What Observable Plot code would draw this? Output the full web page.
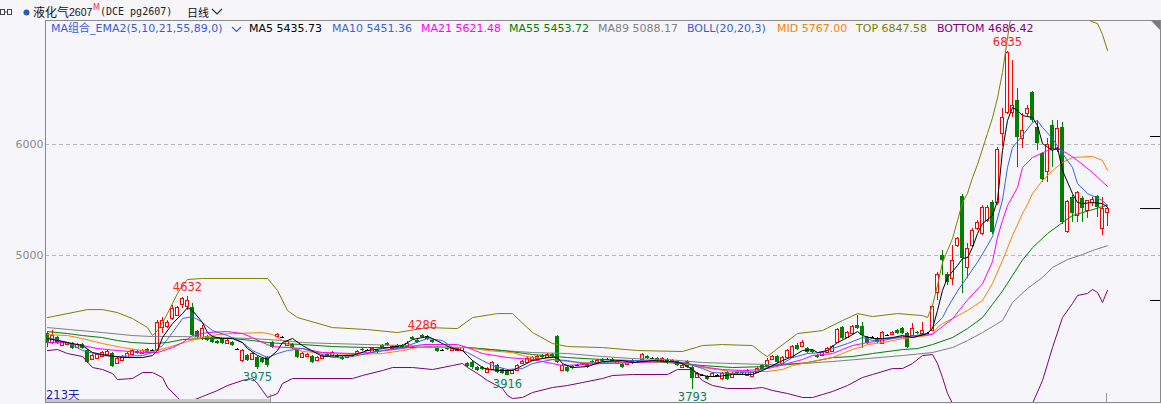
<!DOCTYPE html>
<html>
<head>
<meta charset="utf-8">
<script src="https://cdn.jsdelivr.net/npm/d3@7"></script>
<script src="https://cdn.jsdelivr.net/npm/@observablehq/plot@0.6"></script>
<style>
  html, body { margin: 0; padding: 0; background: #f5f5fa; }
  #wrap { position: relative; width: 1161px; height: 404px; overflow: hidden; background: #f5f5fa;
          font-family: "DejaVu Sans", "Noto Sans CJK SC", sans-serif; }
  #chart { position: absolute; left: 0; top: 20px; }
  .t { position: absolute; white-space: nowrap; line-height: 14px; }
</style>
</head>
<body>
<div id="wrap">
  <div id="chart"></div>
  <svg id="deco" width="1161" height="404" style="position:absolute;left:0;top:0;pointer-events:none">
    <rect x="0.5" y="9.5" width="4" height="5" fill="none" stroke="#444"/>
    <rect x="7.5" y="9.5" width="4" height="5" fill="none" stroke="#444"/>
    <line x1="4.5" y1="12" x2="7.5" y2="12" stroke="#444"/>
    <circle cx="26.5" cy="12.5" r="3" fill="#2a5db0"/>
    <polyline points="212,9 217,14 222,9" fill="none" stroke="#333" stroke-width="1.2"/>
    <polyline points="232,27 236.5,31.5 241,27" fill="none" stroke="#3c5adc" stroke-width="1.2"/>
    <polygon points="1151,20.5 1160,20.5 1160,30" fill="#7a7a7a"/>
    <rect x="46" y="399" width="224" height="3" fill="#c9c9cc"/>
    <line x1="270.5" y1="394" x2="270.5" y2="402" stroke="#9a9a9a"/>
    <line x1="1106.5" y1="393" x2="1106.5" y2="402" stroke="#9a9a9a"/>
  </svg>
  <div id="hdr"></div>
  <div id="legend"></div>
</div>
<script>
// ---------------- DATA ----------------
const opens = [
4297,4216,4261,4189,4198,4207,4171,4198,4144,4063,
4072,4090,4108,4117,4027,4054,4081,4108,4135,4117,
4153,4144,4144,4351,4360,4432,4459,4550,4540,4531,
4315,4261,4270,4261,4225,4243,4207,4216,4153,4054,
4099,4063,4081,4072,4081,4216,4270,4261,4189,4198,
4144,4081,4090,4090,4054,4072,4108,4099,4099,4081,
4081,4108,4117,4153,4144,4126,4144,4189,4207,4162,
4189,4189,4180,4261,4234,4279,4270,4234,4171,4144,
4171,4144,4144,4144,4027,4036,3991,3991,3946,3973,
4009,3973,3964,3937,3964,4027,4036,4054,4072,4099,
4081,4108,4270,3964,3991,4000,4009,4027,4018,4045,
4036,4063,4063,4063,4027,4018,4018,4054,4036,4063,
4090,4072,4072,4054,4063,4036,4045,3991,4045,3991,
3901,3919,3910,3910,3919,3892,3946,3901,3955,3946,
3919,3910,3946,4009,4009,4063,4090,4027,4081,4081,
4189,4180,4162,4144,4099,4099,4126,4135,4216,4351,
4261,4297,4369,4360,4261,4261,4252,4207,4279,4288,
4324,4342,4297,4279,4306,4297,4297,4324,4658,5000,
4829,4784,5090,5531,4892,5090,5243,5198,5315,5477,
5477,6099,6288,6288,6396,6054,6279,6468,6153,5919,
5748,6171,5946,6153,5216,5522,5360,5513,5405,5477,
5531,5243,5387];
const highs = [
4306,4324,4270,4225,4216,4216,4207,4207,4153,4108,
4117,4135,4153,4126,4081,4099,4126,4153,4144,4153,
4162,4153,4414,4441,4414,4550,4545,4622,4632,4568,
4324,4369,4279,4270,4234,4252,4243,4225,4162,4153,
4108,4126,4090,4081,4090,4225,4297,4270,4234,4207,
4153,4126,4117,4099,4090,4108,4117,4135,4108,4090,
4108,4117,4144,4162,4153,4171,4153,4198,4216,4189,
4198,4198,4225,4270,4243,4286,4279,4243,4180,4153,
4180,4171,4171,4180,4036,4054,4000,4000,3991,4045,
4018,3982,3973,3973,4018,4054,4081,4090,4099,4108,
4117,4117,4279,4018,4000,4009,4018,4036,4027,4054,
4063,4072,4072,4072,4054,4027,4045,4063,4045,4117,
4099,4081,4081,4081,4072,4063,4054,4018,4054,4000,
3946,3928,3919,3946,3928,3946,3955,3946,3964,3955,
3973,3955,3991,4018,4072,4099,4099,4090,4153,4189,
4207,4234,4171,4153,4108,4135,4171,4189,4342,4360,
4315,4369,4459,4396,4270,4270,4261,4315,4288,4315,
4333,4351,4306,4387,4315,4396,4306,4550,4847,5045,
4847,5090,5160,5550,5108,5243,5315,5450,5450,5495,
5973,6324,6835,6757,6504,6279,6351,6477,6216,5928,
6054,6216,6216,6200,5500,5540,5580,5530,5500,5520,
5545,5522,5432];
const lows = [
4171,4198,4198,4180,4189,4153,4162,4153,4027,4054,
4063,4081,4099,3991,4018,4045,4072,4099,4108,4108,
4117,4135,4135,4297,4342,4414,4450,4522,4505,4270,
4252,4234,4225,4207,4198,4198,4198,4180,4144,4036,
4045,4054,3975,4027,3990,4162,4261,4252,4180,4153,
4072,4072,4081,4027,4045,4063,4081,4090,4072,4054,
4072,4081,4108,4135,4135,4117,4117,4162,4180,4153,
4162,4162,4171,4234,4207,4252,4234,4207,4126,4135,
4144,4135,4135,4135,3991,3973,3955,3964,3937,3964,
3937,3928,3916,3928,3955,4018,4027,4045,4063,4072,
4072,4081,4027,3955,3946,3973,4000,4009,3982,4027,
4027,4036,4054,4036,4018,3982,4009,4018,4027,4054,
4063,4063,4045,4045,4018,4027,4000,3982,3982,3793,
3892,3910,3874,3901,3910,3874,3874,3892,3928,3928,
3910,3901,3937,3964,4000,4054,4027,4018,4072,4072,
4144,4171,4117,4117,4072,4090,4117,4126,4207,4243,
4252,4288,4333,4162,4198,4252,4207,4198,4270,4279,
4288,4288,4162,4270,4288,4288,4288,4315,4595,4820,
4730,4730,5072,4658,4793,5072,5225,5180,5297,5189,
5450,5982,6270,6243,5793,5964,6243,6198,5946,5658,
5658,5793,5928,5280,5200,5297,5297,5297,5330,5440,
5342,5180,5260];
const closes = [
4207,4279,4207,4216,4216,4162,4198,4162,4036,4099,
4108,4126,4135,4000,4072,4090,4117,4144,4117,4144,
4126,4144,4396,4414,4396,4522,4531,4604,4586,4279,
4261,4342,4234,4216,4207,4207,4234,4189,4153,4144,
4054,4117,3991,4036,4009,4171,4288,4261,4225,4162,
4081,4117,4108,4036,4081,4099,4090,4126,4081,4063,
4099,4090,4135,4144,4144,4162,4126,4171,4189,4180,
4171,4171,4207,4243,4216,4261,4243,4216,4135,4144,
4153,4162,4162,4171,4000,3991,3964,3973,3982,4036,
3946,3937,3919,3964,4009,4045,4072,4081,4090,4081,
4108,4090,4036,4009,3955,3982,4009,4018,3991,4036,
4054,4045,4063,4045,4045,3991,4036,4027,4036,4108,
4072,4072,4054,4072,4027,4054,4009,4009,3991,3892,
3937,3919,3883,3937,3919,3937,3883,3937,3937,3937,
3964,3946,3982,3973,4054,4090,4036,4081,4144,4180,
4153,4216,4126,4126,4081,4126,4162,4180,4333,4252,
4306,4360,4342,4279,4207,4261,4216,4306,4279,4306,
4297,4297,4171,4342,4297,4324,4297,4540,4829,4955,
4757,4955,5153,4973,5063,5225,5297,5432,5432,5207,
5946,6243,6820,6351,6063,6126,6324,6216,6009,5685,
6000,5946,6144,5297,5480,5378,5567,5423,5495,5504,
5432,5423,5423];

// indicator lines, read at selected trading days (day index -> value)
const ma5Day = [0,4,7,9,12,15,19,21,22,23,25,27,28,29,31,32,33,35,37,39,40,42,44,46,47,49,51,55,59,61,64,67,71,73,76,77,79,81,83,84,85,87,88,91,93,95,97,100,102,103,105,108,111,115,117,121,125,127,129,130,132,134,137,141,143,145,147,149,151,153,154,156,158,160,162,163,165,167,169,171,173,176,177,178,179,180,182,183,184,185,186,187,189,190,191,192,193,194,195,197,198,199,201,202,203,205,206,207,209,211,212];
const ma5 = [4252,4216,4189,4126,4099,4081,4081,4099,4144,4261,4387,4477,4531,4505,4396,4306,4270,4252,4252,4216,4162,4099,4063,4144,4216,4252,4189,4090,4099,4099,4144,4162,4189,4243,4270,4252,4207,4162,4144,4099,4054,3991,3973,3964,3964,4009,4054,4081,4081,4027,3991,4000,4045,4054,4036,4054,4045,4027,3973,3937,3910,3910,3928,3928,3964,4009,4054,4090,4144,4153,4126,4144,4216,4261,4315,4279,4252,4252,4261,4279,4261,4297,4342,4505,4685,4802,4910,4973,4982,5072,5198,5288,5360,5495,5946,6216,6333,6306,6261,6243,6171,6009,5946,5973,5766,5558,5477,5468,5477,5468,5436];
const ma10Day = [0,4,7,11,14,19,21,23,25,27,29,31,33,36,39,41,44,46,48,51,57,61,67,71,76,79,81,84,87,89,92,95,97,101,104,107,111,117,124,128,131,133,137,141,144,147,149,152,155,157,160,163,165,168,171,176,177,179,180,182,184,186,188,189,191,192,193,195,197,198,199,201,203,205,206,208,211,212];
const ma10 = [4261,4216,4144,4099,4090,4099,4126,4189,4306,4432,4450,4396,4324,4279,4216,4144,4081,4117,4144,4162,4081,4090,4144,4171,4252,4234,4171,4126,4054,4009,3973,3982,4027,4063,4054,4027,4036,4054,4045,4027,3982,3946,3937,3946,3991,4027,4081,4117,4126,4162,4207,4261,4234,4252,4261,4297,4351,4440,4530,4680,4810,4940,5090,5170,5500,5793,5973,6081,6198,6216,6153,6054,5919,5793,5648,5558,5495,5451];
const ma21Day = [0,3,7,10,14,19,22,25,27,29,32,36,39,41,43,45,51,55,61,64,71,75,82,84,87,92,97,101,103,107,111,117,124,127,129,132,135,139,143,145,148,151,153,157,159,161,164,167,171,175,177,179,181,184,187,189,190,191,192,194,195,197,200,202,204,206,209,212];
const ma21 = [4216,4216,4189,4162,4144,4126,4126,4171,4216,4279,4306,4315,4297,4261,4216,4180,4162,4126,4117,4126,4162,4198,4198,4171,4117,4081,4063,4027,4009,4018,4027,4036,4045,4036,4018,3991,3973,3964,3973,3991,4027,4063,4099,4117,4153,4189,4216,4234,4270,4279,4290,4360,4430,4600,4745,4945,5165,5315,5450,5612,5793,5883,5946,5964,5919,5856,5748,5621];
const ma55Day = [0,4,7,11,14,17,21,24,27,31,37,41,44,47,51,57,64,71,77,84,91,97,104,111,117,124,131,137,144,148,152,157,161,165,171,174,177,181,184,187,189,191,193,195,197,200,203,205,208,211,212];
const ma55 = [4315,4297,4279,4261,4234,4216,4207,4216,4243,4252,4252,4234,4216,4207,4198,4180,4171,4171,4171,4171,4144,4108,4081,4063,4054,4036,4009,3991,4000,4018,4036,4081,4090,4117,4153,4162,4198,4261,4342,4441,4560,4680,4820,4960,5070,5198,5297,5360,5400,5440,5454];
const ma89Day = [0,11,17,21,27,34,41,47,51,57,64,71,77,84,91,97,104,111,117,124,131,137,144,151,157,164,171,177,181,184,187,191,193,196,199,201,204,207,209,212];
const ma89 = [4351,4306,4279,4270,4270,4261,4252,4234,4216,4207,4198,4189,4180,4171,4144,4126,4117,4090,4072,4063,4036,4027,4018,4027,4045,4072,4099,4126,4171,4234,4306,4414,4577,4703,4802,4892,4964,5009,5045,5088];
const midDay = [0,4,7,11,15,19,21,24,28,31,34,37,43,45,47,49,51,57,61,67,71,74,81,84,88,93,95,97,101,104,111,117,124,127,131,134,137,144,147,149,152,155,157,159,161,163,164,167,171,176,177,178,179,181,184,187,189,191,193,195,196,197,199,201,203,205,209,211,212];
const mid = [4288,4279,4252,4207,4171,4144,4135,4171,4225,4261,4288,4297,4306,4288,4234,4171,4135,4117,4108,4117,4144,4171,4171,4171,4144,4126,4099,4081,4063,4045,4027,4036,4045,4027,3991,3973,3955,3955,3973,4009,4036,4063,4081,4117,4153,4180,4198,4216,4250,4279,4297,4351,4387,4432,4505,4595,4748,4955,5180,5378,5460,5558,5676,5766,5838,5883,5892,5856,5767];
const bollTopDay = [0,8,11,14,17,20,21,22,23,24,25,26,27,28,31,44,46,48,50,57,64,70,76,82,85,90,93,97,101,104,111,118,127,131,135,141,143,144,146,150,155,159,162,165,170,175,176,177,178,179,180,181,182,183,184,185,186,187,188,189,190,191,192,193,195,197,199,201,203,205,206,208,209,210,211,212];
const bollTop = [4441,4513,4513,4486,4432,4351,4279,4324,4396,4477,4568,4658,4730,4784,4793,4793,4685,4505,4441,4351,4333,4306,4351,4342,4441,4477,4477,4306,4207,4180,4171,4144,4135,4189,4198,4189,4117,4090,4162,4297,4324,4414,4477,4450,4477,4459,4441,4550,4730,4937,5045,5153,5315,5477,5560,5700,5820,5960,6100,6240,6420,6650,6960,7250,7356,7449,7478,7361,7235,7198,7140,7126,7105,7090,6990,6848];
const bollBottomDay = [0,2,4,7,9,11,13,14,17,19,21,23,24,26,27,29,31,34,36,39,41,42,43,44,46,47,49,61,63,67,69,73,77,81,83,84,86,88,91,92,93,95,97,101,104,107,111,113,117,124,126,129,131,133,136,141,143,145,148,151,153,155,157,160,163,165,169,171,173,175,177,178,179,180,181,183,186,189,192,195,197,199,201,203,205,206,208,209,210,211,212];
const bollBottom = [4144,4153,4117,4090,3991,3973,3937,3883,3892,3946,3946,3901,3811,3721,3676,3694,3730,3784,3829,3874,3892,3847,3784,3721,3757,3847,3892,3892,3919,3964,3991,3991,3973,4009,4027,3991,3937,3874,3802,3739,3712,3721,3766,3811,3829,3856,3892,3919,3928,3928,3973,3973,3874,3829,3802,3802,3811,3784,3757,3721,3721,3748,3775,3829,3901,3928,3982,3982,4027,4099,4108,4027,3901,3757,3667,3560,3420,3300,3250,3400,3667,3874,4171,4441,4568,4640,4658,4694,4667,4577,4686];

const gridValues = [5000, 6000];
const peakDays = [28, 75, 192];
const peakValues = [4632, 4286, 6835];
const troughDays = [42, 92, 129];
const troughValues = [3975, 3916, 3793];
const sideMarkLevels = [6072, 4595];
const lastPrice = [5423];

const titleName = "液化气";
const titleNumber = "2607";
const titleCode = "(DCE pg2607)";
const titlePeriod = "日线";
const groupName = "MA组合_EMA2(5,10,21,55,89,0)";
const legendNames = ["MA5", "MA10", "MA21", "MA55", "MA89", "BOLL(20,20,3)", "MID", "TOP", "BOTTOM"];
const legendValues = ["5435.73", "5451.36", "5621.48", "5453.72", "5088.17", "", "5767.00", "6847.58", "4686.42"];
const dayCountLabel = "213天";

// ---------------- STYLE ----------------
const RED = "#ff0000", GREEN = "#008000", BG = "#f5f5fa";
const lineColors = {ma5: "#000000", ma10: "#3366ee", ma21: "#ff00ff", ma55: "#008000", ma89: "#808080",
                    mid: "#ff8000", top: "#808000", bottom: "#800080"};
const legendColors = ["#000000", "#3a64e0", "#ff00ff", "#008000", "#808080", "#3c5adc", "#ff8000", "#808000", "#800080"];
const legendLeft = [249, 332, 421, 509, 598, 687, 777, 856, 937];

// ---------------- BUILD ----------------
const candles = opens.map((o, i) => ({i, o, h: highs[i], l: lows[i], c: closes[i]}));
const up = candles.filter(d => d.c > d.o);
const down = candles.filter(d => d.c < d.o);
const flat = candles.filter(d => d.c === d.o);
const colorOf = d => d.c > d.o ? RED : d.c < d.o ? GREEN : "#000000";
const series = (days, vals) => days.map((d, k) => ({i: d, v: vals[k]}));

const lineMark = (days, vals, color) =>
  Plot.line(series(days, vals), {x: "i", y: "v", stroke: color, strokeWidth: 1, clip: true});

const chart = Plot.plot({
  width: 1161, height: 384,
  marginLeft: 45, marginRight: 1, marginTop: 0, marginBottom: 2,
  style: {background: "transparent", fontFamily: "DejaVu Sans", fontSize: "11px", overflow: "hidden"},
  x: {domain: [-0.4, 222.6], axis: null},
  y: {domain: [3676, 7117], axis: null},
  marks: [
    Plot.ruleY(gridValues, {stroke: "#b6b6bd", strokeDasharray: "4,3"}),
    Plot.text(gridValues, {y: d => d, text: d => String(d), frameAnchor: "left", textAnchor: "end", dx: -2,
                           fill: "#8c8c94", fontSize: 11}),
    Plot.ruleX(candles, {x: "i", y1: "h", y2: d => Math.max(d.o, d.c), stroke: colorOf, shapeRendering: "crispEdges"}),
    Plot.ruleX(candles, {x: "i", y1: d => Math.min(d.o, d.c), y2: "l", stroke: colorOf, shapeRendering: "crispEdges"}),
    Plot.rect(down, {x1: d => d.i - 0.4, x2: d => d.i + 0.4, y1: "o", y2: "c", fill: GREEN, shapeRendering: "crispEdges"}),
    Plot.rect(up, {x1: d => d.i - 0.3, x2: d => d.i + 0.3, y1: "o", y2: "c", fill: BG, stroke: RED, strokeWidth: 1, shapeRendering: "crispEdges"}),
    Plot.ruleY(flat, {x1: d => d.i - 0.4, x2: d => d.i + 0.4, y: "c", stroke: "#000", shapeRendering: "crispEdges"}),
    lineMark(ma89Day, ma89, lineColors.ma89),
    lineMark(ma55Day, ma55, lineColors.ma55),
    lineMark(bollBottomDay, bollBottom, lineColors.bottom),
    lineMark(bollTopDay, bollTop, lineColors.top),
    lineMark(midDay, mid, lineColors.mid),
    lineMark(ma21Day, ma21, lineColors.ma21),
    lineMark(ma10Day, ma10, lineColors.ma10),
    lineMark(ma5Day, ma5, lineColors.ma5),
    Plot.text(peakDays, {x: d => d, y: (d, k) => peakValues[k], text: (d, k) => String(peakValues[k]),
                         dy: -9, fill: "#ff2020", fontSize: 11.5}),
    Plot.text(troughDays, {x: d => d, y: (d, k) => troughValues[k], text: (d, k) => String(troughValues[k]),
                           dy: 8, fill: "#12805a", fontSize: 11.5}),
    Plot.ruleY(sideMarkLevels, {y: d => d, x1: () => 220.6, x2: () => 222.6, stroke: "#000"}),
    Plot.ruleY(lastPrice, {y: d => d, x1: () => 218.6, x2: () => 222.6, stroke: "#000"}),
    Plot.frame({stroke: "#8a8a8a"})
  ]
});
document.getElementById("chart").appendChild(chart);

// ---------------- TEXT OVERLAYS ----------------
const hdr = document.getElementById("hdr");
function addText(parent, txt, left, topPx, size, color, family) {
  const s = document.createElement("div");
  s.className = "t";
  s.textContent = txt;
  s.style.left = left + "px";
  s.style.top = topPx + "px";
  s.style.fontSize = size + "px";
  s.style.color = color;
  if (family) s.style.fontFamily = family;
  parent.appendChild(s);
  return s;
}
addText(hdr, titleName, 33, 5, 12, "#111", '"Noto Sans CJK SC"');
addText(hdr, titleNumber, 69, 4.5, 10.5, "#111", '"Liberation Sans"');
addText(hdr, "M", 93, 1, 8, "#ff3030", '"DejaVu Sans"');
addText(hdr, titleCode, 100, 5, 10, "#222", '"DejaVu Sans Mono"');
addText(hdr, titlePeriod, 187, 5, 11, "#111", '"Noto Sans CJK SC"');

const leg = document.getElementById("legend");
addText(leg, groupName, 51, 22, 11, "#3c5adc", '"DejaVu Sans","Noto Sans CJK SC"');
legendNames.forEach((n, k) => {
  addText(leg, legendValues[k] ? n + " " + legendValues[k] : n, legendLeft[k], 22, 11, legendColors[k], '"DejaVu Sans"');
});
addText(leg, dayCountLabel, 46, 388, 11.5, "#1c1ca8", '"DejaVu Sans","Noto Sans CJK SC"');
</script>
</body>
</html>
